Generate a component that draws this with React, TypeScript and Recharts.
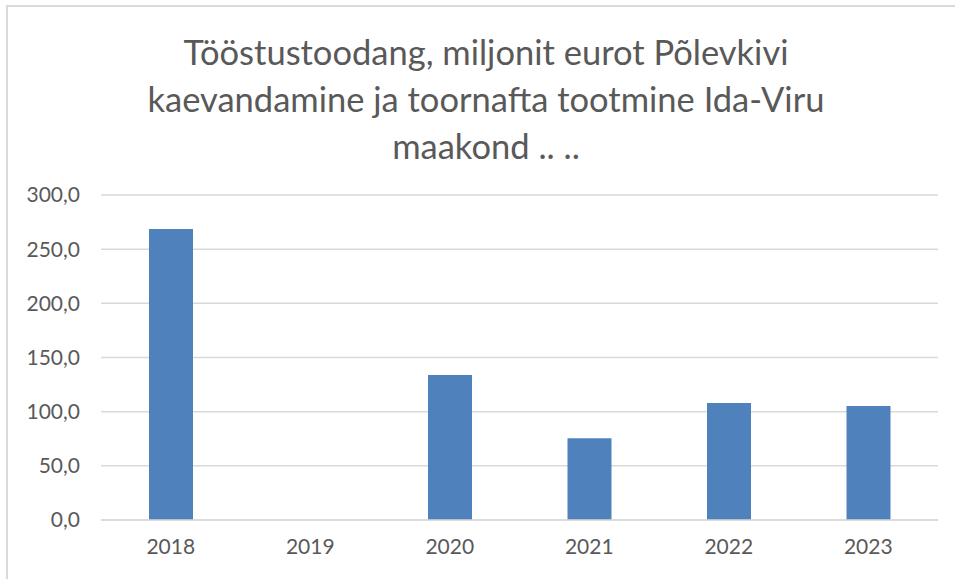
import React from 'react';
import { BarChart, Bar, XAxis, YAxis, CartesianGrid } from 'recharts';

const years = ['2018', '2019', '2020', '2021', '2022', '2023'];
const values: (number | null)[] = [268.6, null, 133.8, 75.5, 108.0, 105.2];
const yTicks = [0, 50, 100, 150, 200, 250, 300];
const titleLines = [
  'Tööstustoodang, miljonit eurot Põlevkivi',
  'kaevandamine ja toornafta tootmine Ida-Viru',
  'maakond .. ..',
];

const data = years.map((year, i) => ({ year, value: values[i] }));

const formatTick = (v: number) => v.toFixed(1).replace('.', ',');

const font = 'Lato, "Open Sans", sans-serif';
const textColor = '#595959';

export default function App() {
  return (
    <div style={{ position: 'absolute', left: 0, top: 0, width: 955, height: 579, overflow: 'hidden', fontFamily: font, background: '#fff' }}>
      <div
        style={{
          position: 'absolute',
          left: 6,
          top: 5,
          width: 1000,
          height: 700,
          borderTop: '2px solid #d9d9d9',
          borderLeft: '2px solid #d9d9d9',
        }}
      />
      <div
        style={{
          position: 'absolute',
          left: 0,
          top: 28,
          width: 972,
          textAlign: 'center',
          color: textColor,
          fontSize: 34.5,
          lineHeight: '47px',
        }}
      >
        {titleLines.map((line) => (
          <div key={line}>{line}</div>
        ))}
      </div>
      <div style={{ position: 'absolute', left: 0, top: 0 }}>
        <BarChart
          width={955}
          height={579}
          data={data}
          margin={{ top: 195, right: 17, bottom: 29, left: 21 }}
          barSize={44}
        >
          <CartesianGrid vertical={false} stroke="#d9d9d9" strokeWidth={1.5} />
          <XAxis
            dataKey="year"
            height={30}
            axisLine={{ stroke: '#d9d9d9', strokeWidth: 1.5 }}
            tickLine={false}
            tickSize={0}
            tickMargin={19}
            tick={{ fill: textColor, fontSize: 21, fontFamily: font }}
            interval={0}
          />
          <YAxis
            width={80}
            domain={[0, 300]}
            ticks={yTicks}
            axisLine={false}
            tickLine={false}
            tickSize={0}
            tickMargin={21}
            tickFormatter={formatTick}
            tick={{ fill: textColor, fontSize: 21, fontFamily: font }}
            interval={0}
          />
          <Bar dataKey="value" fill="#4f81bd" isAnimationActive={false} />
        </BarChart>
      </div>
    </div>
  );
}
